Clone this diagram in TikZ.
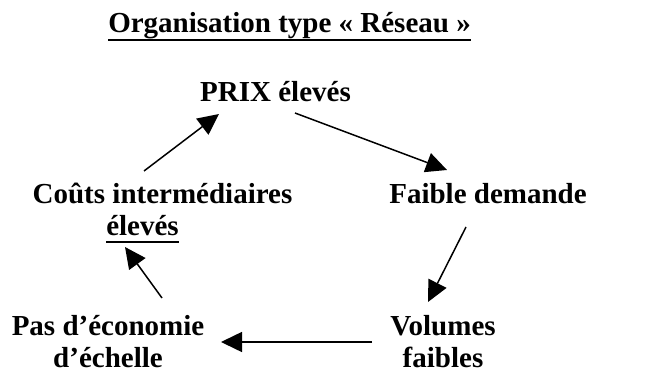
\documentclass[tikz,border=0pt]{standalone}
\usepackage{fontspec}
\setmainfont{Liberation Serif}
\usetikzlibrary{arrows.meta}
\newcommand{\ulx}[1]{\setbox0\hbox{#1}\rlap{\rule[-8pt]{\wd0}{2pt}}\box0}
\begin{document}
\begin{tikzpicture}[x=1pt,y=-1pt,
  lbl/.style={font=\bfseries\fontsize{29}{32}\selectfont, inner sep=0pt, align=center, anchor=base},
  arr/.style={line width=1.5pt, -{Triangle[length=21pt,width=20pt]}}]
\useasboundingbox (0,0) rectangle (668,374);
\node[lbl] (title) at (289.5,33) {\ulx{Organisation type « Réseau »}};
\node[lbl] (prix) at (275.5,102) {PRIX élevés};
\node[lbl] (faible) at (488,203) {Faible demande};
\node[lbl] (couts) at (162.5,235) {Coûts intermédiaires\\\ulx{élevés}\hspace*{40pt}};
\node[lbl] (volumes) at (443,367.5) {Volumes\\faibles};
\node[lbl] (pas) at (108,367.5) {Pas d’économie\\d’échelle};
\coordinate (a1s) at (144,171); \coordinate (a1e) at (219,114);
\coordinate (a2s) at (295,113); \coordinate (a2e) at (447,170);
\coordinate (a3s) at (466,227); \coordinate (a3e) at (428,302);
\coordinate (a4s) at (372,342); \coordinate (a4e) at (221,342);
\coordinate (a5s) at (162,298); \coordinate (a5e) at (125,247);
\draw[arr] (a1s) -- (a1e);
\draw[arr] (a2s) -- (a2e);
\draw[arr] (a3s) -- (a3e);
\draw[arr] (a4s) -- (a4e);
\draw[arr] (a5s) -- (a5e);
\end{tikzpicture}
\end{document}
